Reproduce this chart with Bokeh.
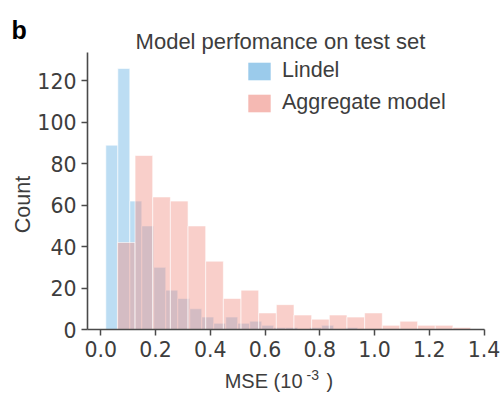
import math

from bokeh.embed import file_html
from bokeh.models import (ColumnDataSource, CustomJSTickFormatter, Label, Legend,
                          LegendItem, Range1d)
from bokeh.plotting import figure
from bokeh.resources import INLINE

# Histogram of test-set MSE (units of 1e-3) for each model
lindel_first_edge = 0.0183
lindel_bin_width = 0.0438
lindel_counts = [89, 126, 62, 50, 30, 19, 15, 10, 6, 3, 6, 3, 4, 2, 1, 1, 0, 1, 2, 0, 1]

agg_first_edge = 0.0606
agg_bin_width = 0.0645
agg_counts = [42, 84, 64, 62, 50, 33, 15, 19, 8, 12, 7, 5, 7, 6, 8, 2, 4, 2, 2, 1]

series_names = ["Lindel", "Aggregate model"]
x_ticks = [0.0, 0.2, 0.4, 0.6, 0.8, 1.0, 1.2, 1.4]
y_ticks = [0, 20, 40, 60, 80, 100, 120]

# Axis extents (the spines span exactly these)
x_lo, x_hi = -0.0486, 1.4
y_lo, y_hi = 0, 133.7

TEXT = "#3d3d3d"
AXIS = "#4a4a4a"
TICK_FONT = "DejaVu Sans"
FONT = "Liberation Sans"

W, H = 504, 395
# The frame fills the canvas; axes sit at fixed data positions inside it
PX_X = 273.8   # pixels per x unit
PX_Y = 2.071   # pixels per count
AX_LEFT, AX_BOTTOM = 87, 66   # pixel offsets of the axes from the canvas edges


def hist_source(first_edge, width, counts):
    left = [first_edge + i * width for i in range(len(counts))]
    right = [l + width for l in left]
    return ColumnDataSource(dict(left=left, right=right, top=counts,
                                 bottom=[0] * len(counts)))


x_range = Range1d(x_lo - AX_LEFT / PX_X, x_lo + (W - AX_LEFT) / PX_X)
y_range = Range1d(y_lo - AX_BOTTOM / PX_Y, y_lo + (H - AX_BOTTOM) / PX_Y)

p = figure(width=W, height=H, x_range=x_range, y_range=y_range,
           output_backend="svg", toolbar_location=None,
           min_border=0, min_border_left=0, min_border_right=0,
           min_border_top=0, min_border_bottom=0)
p.outline_line_color = None
p.grid.visible = False
p.background_fill_color = "white"
p.border_fill_color = "white"

# Bars: Lindel underneath, aggregate model drawn over it
p.quad(left="left", right="right", top="top", bottom="bottom",
       source=hist_source(lindel_first_edge, lindel_bin_width, lindel_counts),
       fill_color="#85C1E9", fill_alpha=0.55,
       line_color="white", line_alpha=0.6, line_width=1)
p.quad(left="left", right="right", top="top", bottom="bottom",
       source=hist_source(agg_first_edge, agg_bin_width, agg_counts),
       fill_color="#F1948A", fill_alpha=0.45,
       line_color="white", line_alpha=0.6, line_width=1)

# Legend swatches: renderers with no visible geometry carrying the key colours
nan = float("nan")
sw_lindel = p.quad(left=[nan], right=[nan], top=[nan], bottom=[nan],
                   fill_color="#9BCBEB", line_color=None)
sw_agg = p.quad(left=[nan], right=[nan], top=[nan], bottom=[nan],
                fill_color="#F5B9B3", line_color=None)
legend = Legend(items=[LegendItem(label=series_names[0], renderers=[sw_lindel]),
                       LegendItem(label=series_names[1], renderers=[sw_agg])],
                location=(245, 280), orientation="vertical",
                glyph_width=28, glyph_height=22, spacing=7, label_standoff=9,
                padding=0, margin=0, border_line_alpha=0,
                background_fill_alpha=0,
                label_text_font=FONT, label_text_font_size="21.5px",
                label_text_color=TEXT)
p.add_layout(legend, "center")

# Axes, pinned to the lower-left corner of the data area
for ax in (p.xaxis, p.yaxis):
    ax.axis_line_color = AXIS
    ax.axis_line_width = 1.6
    ax.major_tick_line_color = AXIS
    ax.major_tick_line_width = 1.5
    ax.major_tick_out = 6
    ax.major_tick_in = 0
    ax.minor_tick_line_color = None
    ax.major_label_text_font = TICK_FONT
    ax.major_label_text_font_size = "20.5px"
    ax.major_label_text_color = TEXT
    ax.major_label_standoff = 5

p.xaxis.fixed_location = y_lo
p.xaxis.bounds = (x_lo, x_hi)
p.xaxis.ticker = x_ticks
p.xaxis.formatter = CustomJSTickFormatter(code="return tick.toFixed(1);")
p.yaxis.fixed_location = x_lo
p.yaxis.bounds = (y_lo, y_hi)
p.yaxis.ticker = y_ticks


def screen_label(x, y, text, **kw):
    style = dict(text_font=FONT, text_color=TEXT)
    style.update(kw)
    p.add_layout(Label(x=x, y=y, x_units="screen", y_units="screen",
                       text=text, **style))


# Panel letter, title and axis titles (pixels from the lower-left corner)
screen_label(280, 354, "Model perfomance on test set", text_align="center",
             text_baseline="middle", text_font_size="22px")
screen_label(11, 380, "b", text_align="left", text_baseline="top",
             text_font_style="bold", text_font_size="25px", text_color="black")
screen_label(22, 191, "Count", angle=math.pi / 2, text_align="center",
             text_baseline="middle", text_font_size="21.5px")
screen_label(302, 15, "MSE (10", text_align="right",
             text_baseline="alphabetic", text_font_size="20px")
screen_label(306, 21, "-3", text_align="left",
             text_baseline="alphabetic", text_font_size="14px")
screen_label(326, 15, ")", text_align="left",
             text_baseline="alphabetic", text_font_size="20px")

open("out.html", "w").write(file_html(p, INLINE))
